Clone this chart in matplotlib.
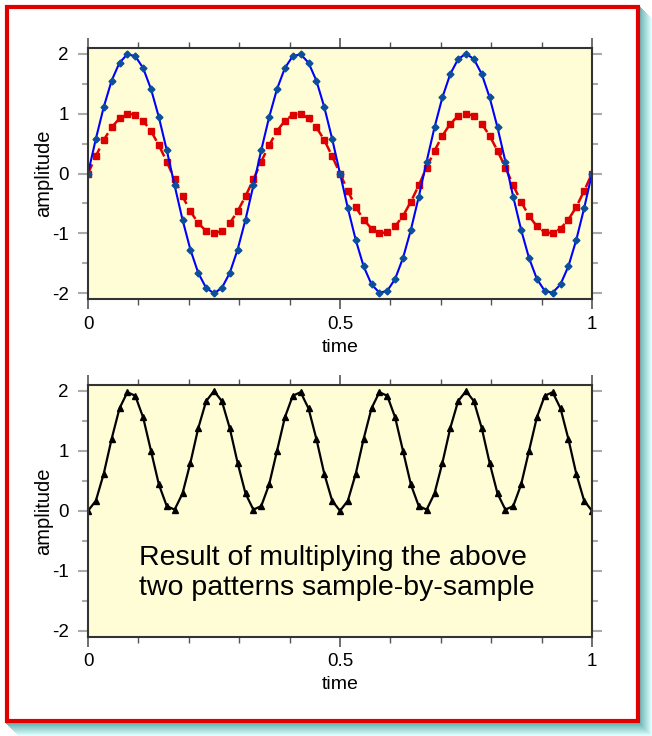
import numpy as np
import matplotlib
matplotlib.use('Agg')
import matplotlib.pyplot as plt
from matplotlib.patches import Rectangle
from matplotlib.ticker import MultipleLocator

plt.rcParams['font.family'] = ['Liberation Sans', 'DejaVu Sans']

# samples (64 samples per unit time, plus the end point)
fs = 64
wave_a = [0, 0.58, 1.11, 1.55, 1.85, 1.99, 1.96, 1.76, 1.41, 0.94, 0.39,
          -0.20, -0.77, -1.27, -1.66, -1.91, -2.00, -1.91, -1.66, -1.27, -0.77, -0.20,
          0.39, 0.94, 1.41, 1.76, 1.96, 1.99, 1.85, 1.55, 1.11, 0.58, 0,
          -0.58, -1.11, -1.55, -1.85, -1.99, -1.96, -1.76, -1.41, -0.94, -0.39,
          0.20, 0.77, 1.27, 1.66, 1.91, 2.00, 1.91, 1.66, 1.27, 0.77, 0.20,
          -0.39, -0.94, -1.41, -1.76, -1.96, -1.99, -1.85, -1.55, -1.11, -0.58, 0]
wave_b = [0, 0.29, 0.56, 0.77, 0.92, 1.00, 0.98, 0.88, 0.71, 0.47, 0.20,
          -0.10, -0.38, -0.63, -0.83, -0.96, -1.00, -0.96, -0.83, -0.63, -0.38, -0.10,
          0.20, 0.47, 0.71, 0.88, 0.98, 1.00, 0.92, 0.77, 0.56, 0.29, 0,
          -0.29, -0.56, -0.77, -0.92, -1.00, -0.98, -0.88, -0.71, -0.47, -0.20,
          0.10, 0.38, 0.63, 0.83, 0.96, 1.00, 0.96, 0.83, 0.63, 0.38, 0.10,
          -0.20, -0.47, -0.71, -0.88, -0.98, -1.00, -0.92, -0.77, -0.56, -0.29, 0]
product = [0, 0.17, 0.62, 1.20, 1.71, 1.98, 1.92, 1.56, 1.00, 0.44, 0.08,
           0.02, 0.29, 0.80, 1.38, 1.83, 2.00, 1.83, 1.38, 0.80, 0.29, 0.02,
           0.08, 0.44, 1.00, 1.56, 1.92, 1.98, 1.71, 1.20, 0.62, 0.17, 0,
           0.17, 0.62, 1.20, 1.71, 1.98, 1.92, 1.56, 1.00, 0.44, 0.08,
           0.02, 0.29, 0.80, 1.38, 1.83, 2.00, 1.83, 1.38, 0.80, 0.29, 0.02,
           0.08, 0.44, 1.00, 1.56, 1.92, 1.98, 1.71, 1.20, 0.62, 0.17, 0]
t = np.arange(len(wave_a)) / fs

note = "Result of multiplying the above\ntwo patterns sample-by-sample"

W, H = 652, 736
fig = plt.figure(figsize=(W / 100, H / 100), dpi=100)

def px_rect(x0, y0, x1, y1, **kw):
    # rectangle given in pixel coords, origin top-left
    return Rectangle((x0 / W, 1 - y1 / H), (x1 - x0) / W, (y1 - y0) / H,
                     transform=fig.transFigure, zorder=-10, **kw)

# drop shadow
dark = np.array([0.40, 0.70, 0.70])
light = np.array([0.88, 1.0, 1.0])
for k in range(13, 0, -1):
    c = dark + (light - dark) * (k - 1) / 12
    fig.patches.append(px_rect(5 + k, 5 + k, 639 + k, 723 + k, facecolor=c, edgecolor='none'))
# white panel with red border
fig.patches.append(px_rect(6.5, 6.5, 637.5, 721, facecolor='white', edgecolor='#e00000', linewidth=3))

bg = '#fffdd6'

def style_axes(ax):
    ax.set_facecolor(bg)
    ax.set_xlim(0, 1)
    ax.set_ylim(-2.1, 2.1)
    ax.xaxis.set_major_locator(MultipleLocator(0.5))
    ax.xaxis.set_minor_locator(MultipleLocator(0.1))
    ax.yaxis.set_major_locator(MultipleLocator(1))
    ax.yaxis.set_minor_locator(MultipleLocator(0.5))
    ax.set_xticks([0, 0.5, 1])
    ax.set_xticklabels(['0', '0.5', '1'])
    ax.set_yticks([-2, -1, 0, 1, 2])
    ax.set_yticklabels(['-2', '-1', '0', '1', '2'])
    ax.tick_params(axis='x', which='both', direction='out', top=True, bottom=True,
                   color='#555555', labelsize=13.5, pad=5)
    ax.tick_params(axis='x', which='major', length=7, width=1.2)
    ax.tick_params(axis='x', which='minor', length=4, width=1)
    ax.tick_params(axis='y', which='both', direction='out', left=True, right=True,
                   color='#aaaaaa', labelsize=13.5, pad=7)
    ax.tick_params(axis='y', which='major', length=7, width=1.5)
    ax.tick_params(axis='y', which='minor', length=4, width=1.5)
    for s in ax.spines.values():
        s.set_color('#333333')
        s.set_linewidth(1.5)
    ax.set_xlabel('time', fontsize=14, labelpad=4)
    ax.set_ylabel('amplitude', fontsize=14.5, labelpad=-1)

ax1 = fig.add_axes([88 / W, 1 - 299.3 / H, 504 / W, 251.6 / H])
style_axes(ax1)
ax1.plot(t, wave_b, color='#e00000', linewidth=1.8, dashes=(4, 3),
         marker='s', markersize=4.5, markerfacecolor='#dd0000', markeredgecolor='#dd0000')
ax1.plot(t, wave_a, color='#0000ff', linewidth=1.5,
         marker='D', markersize=3.5, markerfacecolor='#0b4f9c', markeredgecolor='#0b4f9c')

ax2 = fig.add_axes([88 / W, 1 - 636.7 / H, 504 / W, 251.7 / H])
style_axes(ax2)
ax2.plot(t, product, color='black', linewidth=1.6,
         marker='^', markersize=4.5, markerfacecolor='black', markeredgecolor='black')
ax2.text(0.101, -1.03, note, fontsize=20.5, ha='left', va='center', linespacing=1.2)

fig.savefig('out.png', dpi=100)
